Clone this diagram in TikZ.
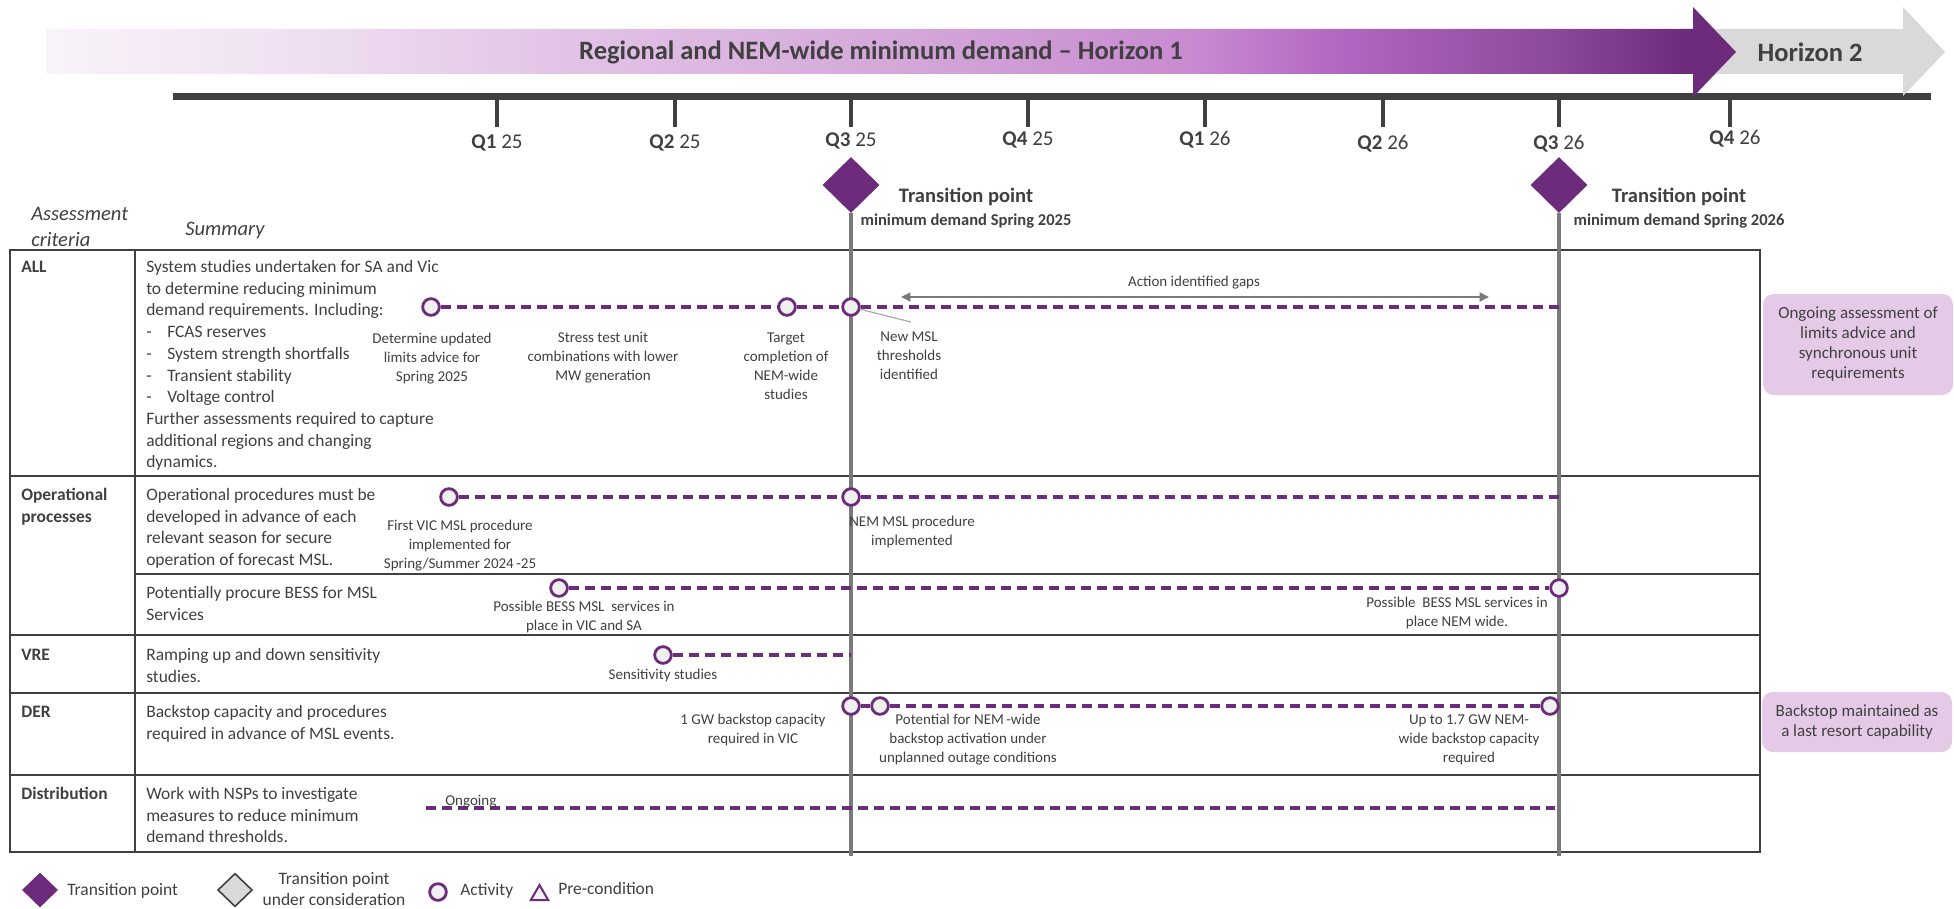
\documentclass[tikz,border=0pt]{standalone}
\usepackage{fontspec}
\setmainfont{Carlito}
\usetikzlibrary{arrows.meta,shapes.geometric}

\definecolor{ink}{HTML}{404040}
\definecolor{plum}{HTML}{6C2C7B}
\definecolor{tlgrey}{HTML}{7A7A7A}
\definecolor{boxpink}{HTML}{E5CAE8}
\definecolor{circfill}{HTML}{F0F0F0}
\definecolor{hzgrey}{HTML}{D9D9D9}
\definecolor{leadgrey}{HTML}{A6A6A6}
% banner gradient stops
\definecolor{ba}{HTML}{F9F3FA}
\definecolor{bb}{HTML}{EFE0F1}
\definecolor{bc}{HTML}{E2C3E6}
\definecolor{bd}{HTML}{D4A8D9}
\definecolor{be}{HTML}{C88AD0}
\definecolor{bf}{HTML}{B066C0}
\definecolor{bg}{HTML}{8C4A9A}
\definecolor{bh}{HTML}{6C2C7B}

\pgfdeclarehorizontalshading{bannerfill}{100bp}{%
  color(0bp)=(ba); color(25bp)=(ba); color(32.5bp)=(bb); color(40.5bp)=(bc);
  color(50bp)=(bd); color(59bp)=(be); color(63.5bp)=(bf); color(69.5bp)=(bg);
  color(73.5bp)=(bh); color(75bp)=(bh); color(100bp)=(bh)}

% type sizes
\newcommand\fsbody{\fontsize{13.1pt}{16.3pt}\selectfont}
\newcommand\fssmall{\fontsize{11.25pt}{14.25pt}\selectfont}
\newcommand\fsbox{\fontsize{12.75pt}{15pt}\selectfont}
\newcommand\fstitle{\fontsize{19.9pt}{24pt}\selectfont}
\newcommand\fsq{\fontsize{15.75pt}{18pt}\selectfont}
\newcommand\fstp{\fontsize{15.4pt}{18pt}\selectfont}
\newcommand\fstpsub{\fontsize{12.4pt}{15pt}\selectfont}
\newcommand\fshead{\fontsize{15.4pt}{19.5pt}\selectfont}
\newcommand\bul{\makebox[15.75pt][l]{-}}

\begin{document}
\begin{tikzpicture}[x=0.75pt,y=-0.75pt,
  lbl/.style={inner sep=0, text=ink},
  summ/.style={lbl, anchor=north west, align=left, font=\fsbody},
  rowlab/.style={lbl, anchor=north west, align=left, font=\fsbody\bfseries},
  note/.style={lbl, anchor=north, align=center, font=\fssmall},
  act/.style={circle, draw=plum, fill=circfill, line width=2.1pt, minimum size=12.5pt, inner sep=0},
  tpdiamond/.style={diamond, fill=plum, inner sep=0, minimum width=42.75pt, minimum height=42pt},
  dashline/.style={draw=plum, line width=2.4pt, dash pattern=on 7.5pt off 4.5pt},
  tline/.style={draw=tlgrey, line width=2.8pt},
  grid/.style={draw=ink, line width=1.3pt},
  qlab/.style={lbl, font=\fsq},
  tick/.style={draw=ink, line width=3pt},
  notebox/.style={fill=boxpink, rounded corners=8pt, align=center, font=\fsbox, text=ink, inner sep=0, minimum width=142.5pt},
  legtext/.style={lbl, font=\fsbody, anchor=west}
]
\useasboundingbox (0,0) rectangle (1954,909);

% ---------- time axis ----------
\fill[ink] (173,93) rectangle (1931,100);
\foreach \x in {497,675,851,1028,1205,1383,1559,1730}
  \draw[tick] (\x,100) -- (\x,127);

% ---------- horizon banners ----------
\fill[hzgrey] (1680,29) -- (1903,29) -- (1903,7) -- (1945,52) -- (1903,96) -- (1903,74) -- (1680,74) -- cycle;
\shade[shading=bannerfill] (46,29) -- (1693,29) -- (1693,7) -- (1736,52) -- (1693,97) -- (1693,74) -- (46,74) -- cycle;
\node[lbl, font=\fstitle\bfseries] (h1) at (881,52) {Regional and NEM-wide minimum demand -- Horizon 1};
\node[lbl, font=\fstitle\bfseries] (h2) at (1810,52) {Horizon 2};

% quarter labels
\node[qlab] (q1a) at (497,143) {\textbf{Q1} 25};
\node[qlab] (q2a) at (675,143) {\textbf{Q2} 25};
\node[qlab] (q3a) at (851,141) {\textbf{Q3} 25};
\node[qlab] (q4a) at (1028,140) {\textbf{Q4} 25};
\node[qlab] (q1b) at (1205,140) {\textbf{Q1} 26};
\node[qlab] (q2b) at (1383,144) {\textbf{Q2} 26};
\node[qlab] (q3b) at (1559,144) {\textbf{Q3} 26};
\node[qlab] (q4b) at (1735,139) {\textbf{Q4} 26};

% ---------- table ----------
\draw[grid] (10,250) rectangle (1760,852);
\draw[grid] (135,250) -- (135,852);
\draw[grid] (10,476) -- (1760,476);
\draw[grid] (135,574) -- (1760,574);
\draw[grid] (10,635) -- (1760,635);
\draw[grid] (10,693) -- (1760,693);
\draw[grid] (10,775) -- (1760,775);

% headings
\node[lbl, anchor=west, font=\fshead\itshape, align=left] (hcrit) at (31,227) {Assessment\\criteria};
\node[lbl, anchor=west, font=\fshead\itshape] (hsum) at (185,231) {Summary};

% row labels
\node[rowlab] (rall) at (21,261) {ALL};
\node[rowlab] (rop) at (21,488) {Operational\\processes};
\node[rowlab] (rvre) at (21,649) {VRE};
\node[rowlab] (rder) at (21,706) {DER};
\node[rowlab] (rdist) at (21,787) {Distribution};

% summaries
\node[summ] (sall) at (146,260) {System studies undertaken for SA and Vic\\to determine reducing minimum\\demand requirements. Including:\\\bul FCAS reserves\\\bul System strength shortfalls\\\bul Transient stability\\\bul Voltage control\\Further assessments required to capture\\additional regions and changing\\dynamics.};
\node[summ] (sop) at (146,488) {Operational procedures must be\\developed in advance of each\\relevant season for secure\\operation of forecast MSL.};
\node[summ] (sbess) at (146,586) {Potentially procure BESS for MSL\\Services};
\node[summ] (svre) at (146,648) {Ramping up and down sensitivity\\studies.};
\node[summ] (sder) at (146,705) {Backstop capacity and procedures\\required in advance of MSL events.};
\node[summ] (sdist) at (146,787) {Work with NSPs to investigate\\measures to reduce minimum\\demand thresholds.};

% ---------- transition points ----------
\node[tpdiamond] (tp1) at (851,185) {};
\node[tpdiamond] (tp2) at (1559,185) {};
\coordinate (tp1end) at (851,856);
\coordinate (tp2end) at (1559,856);
\draw[tline] (tp1.south) -- (tp1end);
\draw[tline] (tp2.south) -- (tp2end);
\node[lbl, font=\fstp\bfseries] (tp1t) at (966,197) {Transition point};
\node[lbl, font=\fstpsub\bfseries] (tp1s) at (966,221) {minimum demand Spring 2025};
\node[lbl, font=\fstp\bfseries] (tp2t) at (1679,197) {Transition point};
\node[lbl, font=\fstpsub\bfseries] (tp2s) at (1679,221) {minimum demand Spring 2026};

% ---------- ALL row ----------
\node[act] (a1) at (431,307) {};
\node[act] (a2) at (787,307) {};
\node[act] (a3) at (851,307) {};
\coordinate (aend) at (1559,307);
\draw[dashline] (a1) -- (a2);
\draw[dashline] (a2) -- (a3);
\draw[dashline] (a3) -- (aend);
\coordinate (ldr) at (911,322);
\draw[leadgrey, line width=0.9pt] (a3) -- (ldr);
\coordinate (gapL) at (901,297);
\coordinate (gapR) at (1489,297);
\draw[tlgrey, line width=1.9pt, {Triangle[length=7pt,width=6.5pt]}-{Triangle[length=7pt,width=6.5pt]}] (gapL) -- (gapR);
\node[lbl, font=\fssmall] (gapt) at (1194,283) {Action identified gaps};
\node[note] (n1) at (432,333) {Determine updated\\limits advice for\\Spring 2025};
\node[note] (n2) at (603,332) {Stress test unit\\combinations with lower\\MW generation};
\node[note] (n3) at (786,333) {Target\\completion of\\NEM-wide\\studies};
\node[note] (n4) at (909,331) {New MSL\\thresholds\\identified};

% ---------- Operational rows ----------
\node[act] (o1) at (449,497) {};
\node[act] (o2) at (851,497) {};
\coordinate (oend) at (1559,497);
\draw[dashline] (o1) -- (o2);
\draw[dashline] (o2) -- (oend);
\node[note] (n5) at (460,520) {First VIC MSL procedure\\implemented for\\Spring/Summer 2024\,-25};
\node[note] (n6) at (912,516) {NEM MSL procedure\\implemented};

\node[act] (b1) at (559,588) {};
\node[act] (b2) at (1559,588) {};
\draw[dashline] (b1) -- (b2);
\node[note] (n7) at (584,601) {Possible BESS MSL\ \ services in\\place in VIC and SA};
\node[note] (n8) at (1457,597) {Possible\ \ BESS MSL services in\\place NEM wide.};

% ---------- VRE row ----------
\node[act] (v1) at (663,655) {};
\coordinate (vend) at (851,655);
\draw[dashline] (v1) -- (vend);
\node[note] (n9) at (663,669) {Sensitivity studies};

% ---------- DER row ----------
\node[act] (d1) at (851,706) {};
\node[act] (d2) at (880,706) {};
\node[act] (d3) at (1550,706) {};
\draw[dashline] (d1) -- (d2);
\draw[dashline] (d2) -- (d3);
\node[note] (n10) at (753,714) {1 GW backstop capacity\\required in VIC};
\node[note] (n11) at (968,714) {Potential for NEM\,-wide\\backstop activation under\\unplanned outage conditions};
\node[note] (n12) at (1469,714) {Up to 1.7 GW NEM-\\wide backstop capacity\\required};

% ---------- Distribution row ----------
\coordinate (dsL) at (426,808);
\coordinate (dsR) at (1555,808);
\draw[dashline] (dsL) -- (dsR);
\node[lbl, font=\fssmall, anchor=base west] (n13) at (445,805) {Ongoing};

% ---------- side notes ----------
\node[notebox, minimum height=75.75pt] (side1) at (1858,344.5) {Ongoing assessment of\\limits advice and\\synchronous unit\\requirements};
\node[notebox, minimum height=45pt] (side2) at (1857,722) {Backstop maintained as\\a last resort capability};

% ---------- legend ----------
\node[tpdiamond, minimum width=27pt, minimum height=26.25pt] (lg1) at (40,890) {};
\node[legtext] (lg1t) at (67,891) {Transition point};
\node[diamond, draw=ink, fill=hzgrey, line width=1.2pt, inner sep=0, minimum width=26pt, minimum height=25pt] (lg2) at (235,890) {};
\node[lbl, font=\fsbody, align=center] (lg2t) at (334,889) {Transition point\\under consideration};
\node[act] (lg3) at (438,892) {};
\node[legtext] (lg3t) at (460,891) {Activity};
\node[regular polygon, regular polygon sides=3, draw=plum, fill=circfill, line width=1.5pt, inner sep=0, minimum size=15pt] (lg4) at (539.5,895) {};
\node[legtext] (lg4t) at (558,888) {Pre-condition};
\end{tikzpicture}
\end{document}
